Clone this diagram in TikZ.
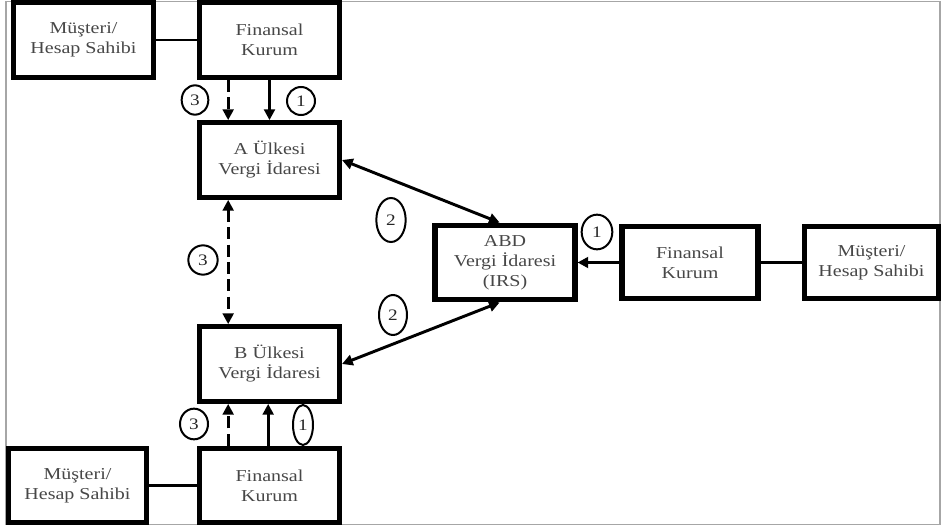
\documentclass[tikz,border=0pt]{standalone}
\usepackage{fontspec}
\setmainfont{Liberation Serif}[FakeStretch=1.2]
\usetikzlibrary{arrows.meta,shapes.geometric}
\begin{document}
\begin{tikzpicture}[x=0.75pt,y=-0.75pt,
  box/.style={draw=black,line width=3.8pt,fill=white,minimum width=105pt,minimum height=56pt,
    align=center,inner sep=0pt,text=black!72,font=\fontsize{12.5}{15}\selectfont},
  rbox/.style={box,minimum width=102pt,minimum height=54pt},
  num/.style={draw=black,line width=1.5pt,ellipse,inner sep=0pt,text=black!85,
    font=\fontsize{12}{12}\selectfont},
  link/.style={line width=1.9pt},
  arr/.style={line width=2.2pt,-{Triangle[length=8pt,width=8pt]}},
  darr/.style={line width=2.2pt,{Triangle[length=8pt,width=8pt]}-{Triangle[length=8pt,width=8pt]}},
  dsh/.style={dash pattern=on 9pt off 4pt}]
\useasboundingbox (0,0) rectangle (942,527);
\draw[gray!70,line width=1.2pt] (6,1.5) rectangle (940,524.5);

% nodes
\node[box] (mTL) at (83.5,40) {Müşteri/\\Hesap Sahibi};
\node[box] (fTL) at (269.5,40) {Finansal\\Kurum};
\node[box] (A) at (269.5,160) {A Ülkesi\\Vergi İdaresi};
\node[box] (ABD) at (505,262.5) {ABD\\Vergi İdaresi\\(IRS)};
\node[box] (B) at (269.5,364) {B Ülkesi\\Vergi İdaresi};
\node[rbox] (fR) at (690,262.5) {Finansal\\Kurum};
\node[rbox,minimum width=100pt] (mR) at (871.5,262.5) {Müşteri/\\Hesap Sahibi};
\node[box] (fB) at (269.5,485.5) {Finansal\\Kurum};
\node[box,minimum width=103pt] (mB) at (77.5,485.5) {Müşteri/\\Hesap Sahibi};

% links
\draw[link] (mTL.east) -- (fTL.west);
\draw[link] (fR.east) -- (mR.west);
\draw[link] (mB.east) -- (fB.west);

% arrows top
\draw[arr,dsh] ([xshift=-31pt]fTL.south) -- ([xshift=-31pt]A.north);
\draw[arr] ([xshift=0pt]fTL.south) -- ([xshift=0pt]A.north);
% middle dashed
\draw[darr,dsh] ([xshift=-31pt]A.south) -- ([xshift=-31pt]B.north);
% bottom
\draw[arr,dsh] ([xshift=-31pt]fB.north) -- ([xshift=-31pt]B.south);
\draw[arr] ([xshift=-1pt]fB.north) -- ([xshift=-1pt]B.south);
% to ABD
\draw[darr] (A.east) -- ([xshift=-4pt]ABD.north);
\draw[darr] (B.east) -- ([xshift=-4pt]ABD.south);
\draw[arr] (fR.west) -- (ABD.east);

% number labels
\node[num,minimum width=20pt,minimum height=22pt] (n3a) at (195,100) {3};
\node[num,minimum width=21pt,minimum height=21pt] (n1a) at (301,101) {1};
\node[num,minimum width=22pt,minimum height=22pt] (n3m) at (203,260) {3};
\node[num,minimum width=22pt,minimum height=33pt] (n2a) at (391,220) {2};
\node[num,minimum width=21pt,minimum height=30pt] (n2b) at (393,315) {2};
\node[num,minimum width=23pt,minimum height=26pt] (n1r) at (597,232) {1};
\node[num,minimum width=21pt,minimum height=23pt] (n3b) at (194,424) {3};
\node[num,minimum width=15pt,minimum height=30pt] (n1b) at (303,425) {1};
\end{tikzpicture}
\end{document}
